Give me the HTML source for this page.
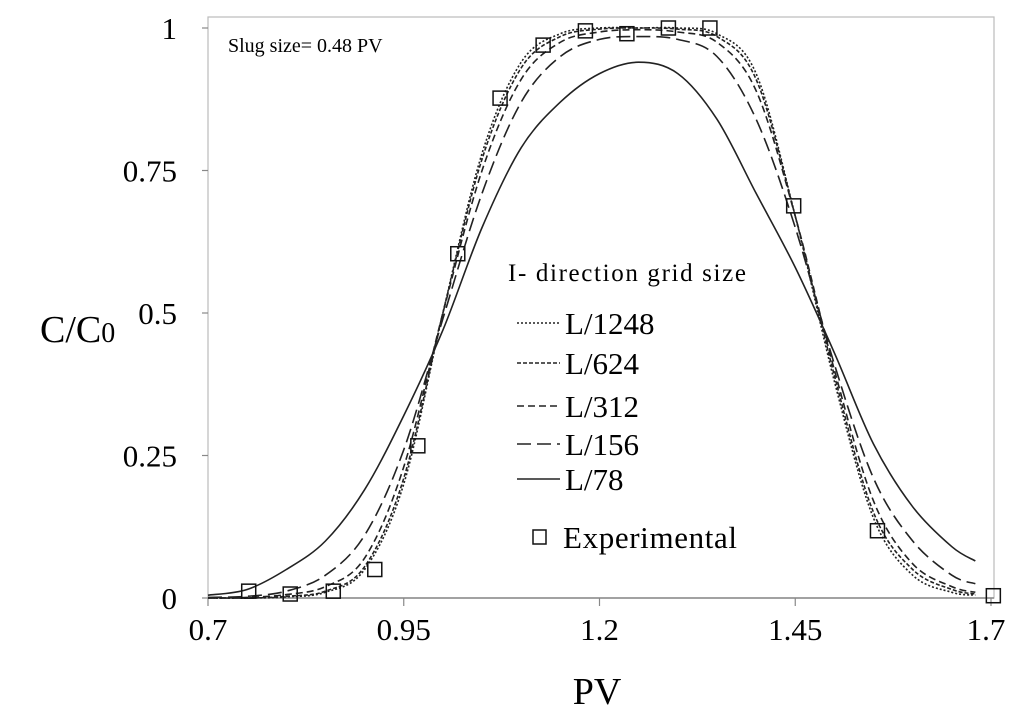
<!DOCTYPE html>
<html><head><meta charset="utf-8"><style>
body{margin:0;background:#fff}
svg{display:block;font-family:"Liberation Serif",serif}
</style></head><body>
<svg id="chart" width="1024" height="718" viewBox="0 0 1024 718">
<rect x="208" y="17" width="786" height="581" fill="#fff" stroke="#bbb" stroke-width="1.2"/>
<g id="axes"></g>
<g id="series"></g>
<text x="228" y="52" font-size="20">Slug size=  0.48 PV</text>
<text x="40" y="342" font-size="38">C/C<tspan font-size="28">0</tspan></text>
<text x="597" y="704" font-size="38" text-anchor="middle">PV</text>
<g id="legend">
<text x="508" y="281" font-size="25" textLength="238">I- direction grid size</text>
</g>
</svg>
<script>
const xTicks=[0.7,0.95,1.2,1.45,1.7];
const xTickLabels=["0.7","0.95","1.2","1.45","1.7"];
const yTicks=[0,0.25,0.5,0.75,1];
const yTickLabels=["0","0.25","0.5","0.75","1"];
const pvGrid=[0.7,0.75,0.8,0.85,0.9,0.95,1.0,1.05,1.1,1.15,1.2,1.25,1.3,1.35,1.4,1.45,1.5,1.55,1.6,1.65,1.68];
const seriesNames=["L/1248","L/624","L/312","L/156","L/78"];
const l1248=[0,0,0.002,0.01,0.05,0.2,0.5,0.78,0.94,0.99,1.0,1.0,1.0,0.99,0.92,0.67,0.38,0.14,0.04,0.01,0.005];
const l624=[0,0,0.003,0.012,0.055,0.21,0.5,0.77,0.93,0.985,0.998,1.0,0.998,0.985,0.91,0.67,0.39,0.15,0.05,0.015,0.007];
const l312=[0,0.001,0.006,0.02,0.07,0.23,0.5,0.75,0.91,0.975,0.993,0.997,0.993,0.975,0.89,0.67,0.4,0.17,0.06,0.02,0.01];
const l156=[0.001,0.003,0.012,0.04,0.11,0.26,0.49,0.71,0.87,0.95,0.98,0.985,0.98,0.95,0.84,0.65,0.41,0.21,0.1,0.04,0.025];
const l78=[0.005,0.015,0.05,0.1,0.19,0.32,0.47,0.65,0.79,0.87,0.92,0.94,0.92,0.84,0.71,0.58,0.43,0.27,0.16,0.09,0.065];
const expPV=[0.752,0.805,0.86,0.913,0.968,1.019,1.073,1.128,1.182,1.235,1.288,1.341,1.448,1.555,1.703];
const expC=[0.012,0.007,0.012,0.05,0.267,0.604,0.877,0.97,0.995,0.99,1.0,1.0,0.688,0.118,0.004];
const NS="http://www.w3.org/2000/svg";
const X=v=>208+(v-0.7)/1.0*783;
const Y=v=>598-v*570;
const axes=document.getElementById('axes'),ser=document.getElementById('series'),leg=document.getElementById('legend');
function mk(tag,at,parent){const e=document.createElementNS(NS,tag);for(const k in at)e.setAttribute(k,at[k]);parent.appendChild(e);return e;}
mk('line',{x1:208,y1:598,x2:994,y2:598,stroke:'#888','stroke-width':1.5},axes);
xTicks.forEach((t,i)=>{
 const l=mk('line',{x1:X(t),y1:598,x2:X(t),y2:606,stroke:'#888','stroke-width':1.2},axes);
 
 
 const tx=mk('text',{x:X(t)-(i==4?5:0),y:640,'font-size':31,'text-anchor':'middle'},axes);
 tx.textContent=xTickLabels[i];
 
 
});
yTicks.forEach((t,i)=>{
 const l=mk('line',{x1:202,y1:Y(t),x2:208,y2:Y(t),stroke:'#888','stroke-width':1.2},axes);
 
 
 const tx=mk('text',{x:177,y:Y(t)+11,'font-size':31,'text-anchor':'end'},axes);
 tx.textContent=yTickLabels[i];
 
 
});
function smooth(xs,ys){
 const p=xs.map((x,i)=>[X(x),Y(ys[i])]);
 let d='M'+p[0][0]+','+p[0][1];
 for(let i=0;i<p.length-1;i++){
  const p0=p[Math.max(0,i-1)],p1=p[i],p2=p[i+1],p3=p[Math.min(p.length-1,i+2)];
  const c1=[p1[0]+(p2[0]-p0[0])/6,p1[1]+(p2[1]-p0[1])/6],c2=[p2[0]-(p3[0]-p1[0])/6,p2[1]-(p3[1]-p1[1])/6];
  d+=` C${c1[0]},${c1[1]} ${c2[0]},${c2[1]} ${p2[0]},${p2[1]}`;
 }
 return d;
}
const data=[l1248,l624,l312,l156,l78];
const dashes=['2,2','4,2','7,4','14,6','none'];
const legY=[323,363,406,444,479];
data.forEach((arr,i)=>{
 const p=mk('path',{d:smooth(pvGrid,arr),fill:'none',stroke:'#222','stroke-width':1.6,'stroke-dasharray':dashes[i]},ser);
 
 
 const ll=mk('line',{x1:517,y1:legY[i],x2:560,y2:legY[i],stroke:'#222','stroke-width':1.6,'stroke-dasharray':dashes[i]},leg);
 
 
 const lt=mk('text',{x:565,y:legY[i]+11,'font-size':31},leg);
 lt.textContent=seriesNames[i];
 
 
});
expPV.forEach((v,i)=>{
 const r=mk('rect',{x:X(v)-7,y:Y(expC[i])-7,width:14,height:14,fill:'none',stroke:'#111','stroke-width':1.5},ser);
 
 
});
const lr=mk('rect',{x:533,y:530,width:13,height:14,fill:'none',stroke:'#111','stroke-width':1.5},leg);


const le=mk('text',{x:563,y:548,'font-size':31,textLength:174},leg);
le.textContent='Experimental';


</script>
</body></html>
